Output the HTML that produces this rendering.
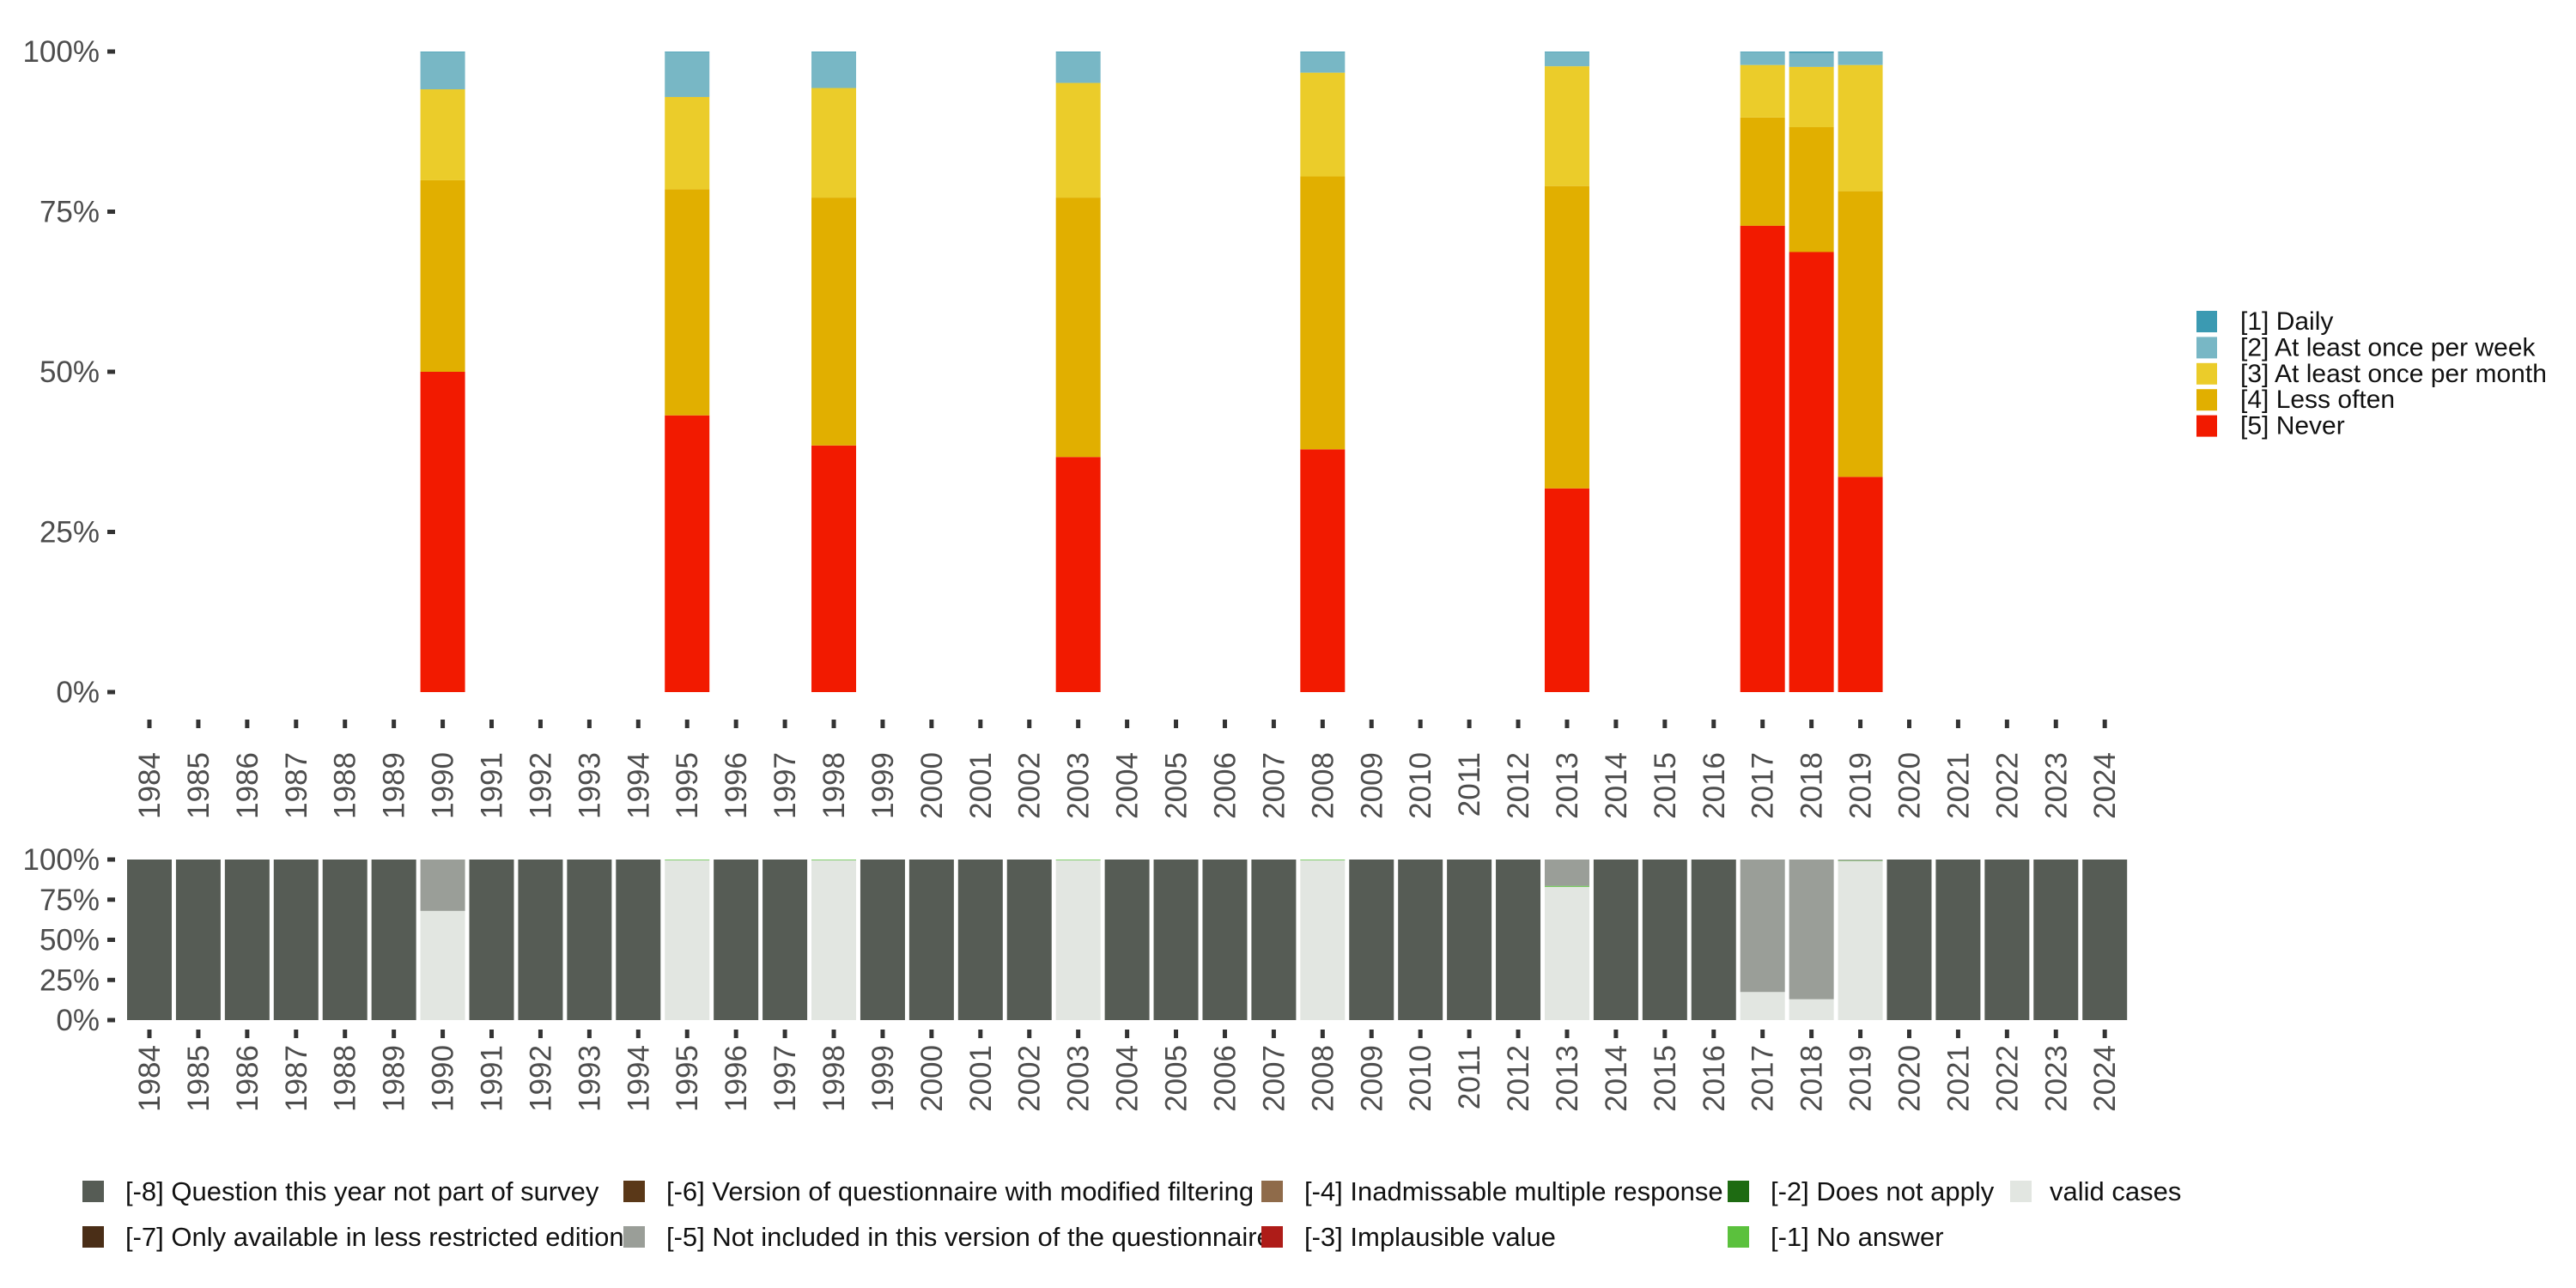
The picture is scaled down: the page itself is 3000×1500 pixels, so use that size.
<!DOCTYPE html>
<html><head><meta charset="utf-8"><style>
html,body{margin:0;padding:0;background:#fff;}
svg{display:block;font-family:"Liberation Sans","DejaVu Sans",sans-serif;}
</style></head><body>
<svg id="chart" width="3000" height="1500" viewBox="0 0 3000 1500" xmlns="http://www.w3.org/2000/svg">
<g id="top"></g>
<g id="bottom"></g>
<g id="legR"></g>
<g id="legB"></g>
</svg>
<script>
const years = [];
for (let y = 1984; y <= 2024; y++) years.push(y);
const topYears = [1990, 1995, 1998, 2003, 2008, 2013, 2017, 2018, 2019];
const neverVals = [50, 43.2, 38.5, 36.7, 37.9, 31.8, 72.8, 68.7, 33.6];
const lessVals = [29.9, 35.3, 38.7, 40.5, 42.6, 47.2, 16.9, 19.5, 44.6];
const monthVals = [14.2, 14.4, 17.1, 17.9, 16.2, 18.7, 8.2, 9.4, 19.7];
const weekVals = [5.8, 7.0, 5.6, 4.8, 3.2, 2.2, 2.0, 2.2, 2.0];
const dailyVals = [0.1, 0.1, 0.1, 0.1, 0.1, 0.1, 0.1, 0.2, 0.1];
const topSeries = [
  {name:"never", label:"[5] Never", color:"#f21a00", vals:neverVals},
  {name:"less-often", label:"[4] Less often", color:"#e1af00", vals:lessVals},
  {name:"once-per-month", label:"[3] At least once per month", color:"#ebcc2a", vals:monthVals},
  {name:"once-per-week", label:"[2] At least once per week", color:"#78b7c5", vals:weekVals},
  {name:"daily", label:"[1] Daily", color:"#3b9ab2", vals:dailyVals}
];
const yTicks = [0, 25, 50, 75, 100];
const yTickLabels = ["0%", "25%", "50%", "75%", "100%"];
const botYears = [1990, 1995, 1998, 2003, 2008, 2013, 2017, 2018, 2019];
const validVals = [68, 99.6, 99.6, 99.6, 99.6, 83, 17.5, 13, 99];
const noAnswerVals = [0, 0.4, 0.4, 0.4, 0.4, 0.6, 0, 0, 0.3];
const notIncludedVals = [32, 0, 0, 0, 0, 16.4, 82.5, 87, 0.7];

const NS = "http://www.w3.org/2000/svg";
function mk(tag, attrs, parent) {
  const e = document.createElementNS(NS, tag);
  for (const k in attrs) e.setAttribute(k, attrs[k]);
  parent.appendChild(e);
  return e;
}
const x0 = 174, step = 56.93, bw = 52;
function xs(year) { return x0 + (year - 1984) * step; }
function yTop(p) { return 806 - p / 100 * 746; }
function yBot(p) { return 1188 - p / 100 * 187; }

function axes(g, ys, tickY, labY, prefix) {
  yTicks.forEach((t, i) => {
    const tk = mk("rect", {x:125, y:ys(t) - 2.5, width:9, height:5, fill:"#333"}, g);
    
    
    const tx = mk("text", {x:116, y:ys(t) + 12, "text-anchor":"end", "font-size":35, fill:"#4d4d4d"}, g);
    tx.textContent = yTickLabels[i];
    
    
  });
  years.forEach(yr => {
    const x = xs(yr);
    const tk = mk("rect", {x:x - 2.5, y:tickY, width:5, height:10, fill:"#333"}, g);
    
    
    const tx = mk("text", {x:0, y:0, "text-anchor":"end", "font-size":35, fill:"#4d4d4d",
      transform:`translate(${x + 12},${labY}) rotate(-90)`}, g);
    tx.textContent = yr;
    
    
  });
}

const gt = document.getElementById("top");
topYears.forEach((yr, i) => {
  let cum = 0;
  topSeries.forEach(s => {
    const v = s.vals[i];
    const r = mk("rect", {x:xs(yr) - bw / 2, y:yTop(cum + v), width:bw, height:yTop(cum) - yTop(cum + v), fill:s.color}, gt);
    
    
    cum += v;
  });
});
axes(gt, yTop, 838, 876, "top");

const gb = document.getElementById("bottom");
years.forEach(yr => {
  const i = botYears.indexOf(yr);
  const parts = i < 0 ? [{n:"not-part-of-survey", c:"#565c55", v:100}] : [
    {n:"valid-cases", c:"#e2e6e1", v:validVals[i]},
    {n:"no-answer", c:"#5bc13d", v:noAnswerVals[i]},
    {n:"not-included", c:"#9a9e98", v:notIncludedVals[i]}
  ];
  let cum = 0;
  parts.forEach(p => {
    if (p.v <= 0) return;
    const r = mk("rect", {x:xs(yr) - bw / 2, y:yBot(cum + p.v), width:bw, height:yBot(cum) - yBot(cum + p.v), fill:p.c}, gb);
    
    
    cum += p.v;
  });
});
axes(gb, yBot, 1199, 1217, "bottom");

const gr = document.getElementById("legR");
topSeries.slice().reverse().forEach((s, i) => {
  const y = 362 + i * 30.4;
  const r = mk("rect", {x:2558, y:y, width:24, height:25, fill:s.color}, gr);
  
  
  const t = mk("text", {x:2609, y:y + 22, "font-size":30, fill:"#111"}, gr);
  t.textContent = s.label;
  
  
});

const botLegend = [
  {x:96, row:0, c:"#565c55", t:"[-8] Question this year not part of survey"},
  {x:96, row:1, c:"#4a2e17", t:"[-7] Only available in less restricted edition"},
  {x:726, row:0, c:"#5a3818", t:"[-6] Version of questionnaire with modified filtering"},
  {x:726, row:1, c:"#9a9e98", t:"[-5] Not included in this version of the questionnaire"},
  {x:1469, row:0, c:"#8f6b4a", t:"[-4] Inadmissable multiple response"},
  {x:1469, row:1, c:"#ae1c18", t:"[-3] Implausible value"},
  {x:2012, row:0, c:"#1e6b12", t:"[-2] Does not apply"},
  {x:2012, row:1, c:"#5bc13d", t:"[-1] No answer"},
  {x:2341, row:0, c:"#e2e6e1", t:"valid cases"}
];
const gl = document.getElementById("legB");
botLegend.forEach(e => {
  const y = 1375 + e.row * 53;
  const r = mk("rect", {x:e.x, y:y, width:25, height:25, fill:e.c}, gl);
  
  
  const t = mk("text", {x:e.x + (e.t === "valid cases" ? 46 : 50), y:y + 23, "font-size":31, fill:"#111"}, gl);
  t.textContent = e.t;
  
  
});
</script>
</body></html>
